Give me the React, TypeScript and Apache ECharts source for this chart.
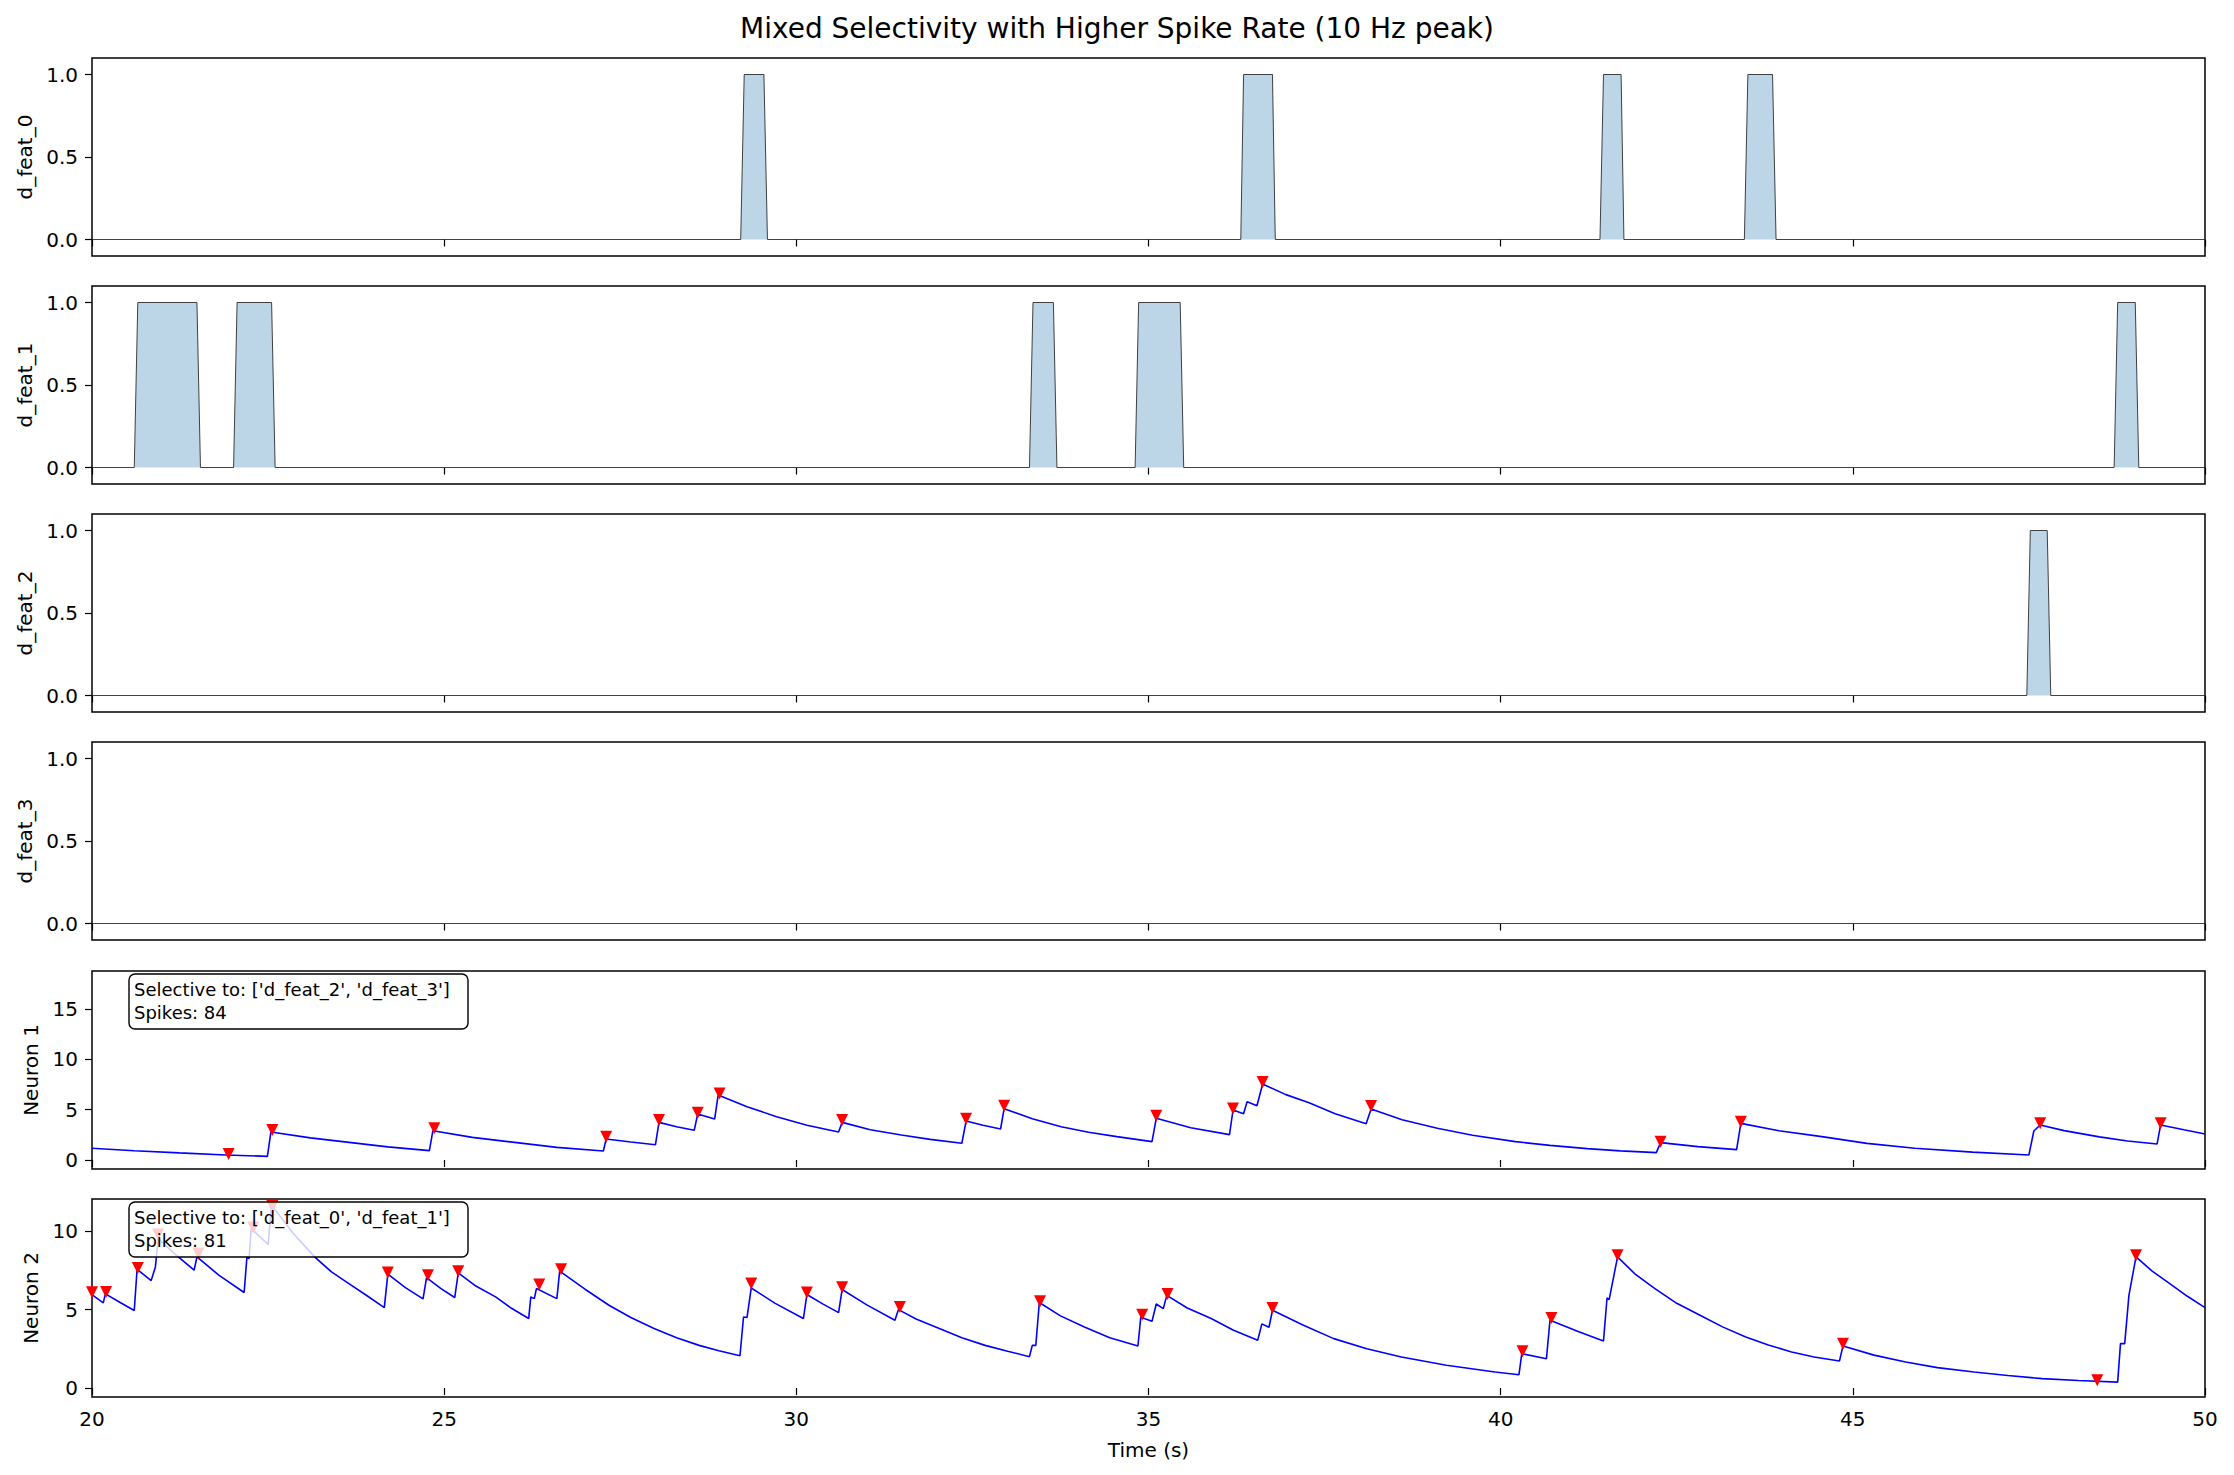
import React, { useEffect, useRef } from "react";
import * as echarts from "echarts";

const TITLE = "Mixed Selectivity with Higher Spike Rate (10 Hz peak)";
const X_LABEL = "Time (s)";
const X_MIN = 20;
const X_MAX = 50;
const X_STEP = 5;

const FEATURE_NAMES = ["d_feat_0", "d_feat_1", "d_feat_2", "d_feat_3"];
const FEATURE_TICKS = [0, 0.5, 1];

// each pulse: [rise start, rise end, fall start, fall end] (s)
const feat0Pulses = [
  [29.21, 29.26, 29.54, 29.59],
  [36.31, 36.35, 36.76, 36.8],
  [41.41, 41.46, 41.71, 41.75],
  [43.46, 43.51, 43.86, 43.91],
];
const feat1Pulses = [
  [20.6, 20.65, 21.49, 21.54],
  [22.01, 22.06, 22.55, 22.6],
  [33.31, 33.36, 33.65, 33.7],
  [34.81, 34.86, 35.45, 35.5],
  [48.71, 48.76, 49.01, 49.06],
];
const feat2Pulses = [[47.47, 47.52, 47.76, 47.81]];
const feat3Pulses: number[][] = [];

const NEURON_NAMES = ["Neuron 1", "Neuron 2"];
const NEURON_SELECTIVITY = ["['d_feat_2', 'd_feat_3']", "['d_feat_0', 'd_feat_1']"];
const NEURON_SPIKES = [84, 81];
const NEURON_TICKS = [
  [0, 5, 10, 15],
  [0, 5, 10],
];
const NEURON_YLIM = [
  [-0.9, 18.8],
  [-0.57, 12.05],
];

const neuron1Trace = [
  [20, 1.16], [20.6, 0.92], [21.24, 0.7], [21.9, 0.5], [22.49, 0.36], [22.54, 2.78],
  [23.1, 2.2], [23.65, 1.75], [24.2, 1.3], [24.79, 0.93], [24.84, 2.91], [25.4, 2.25],
  [26.03, 1.72], [26.6, 1.25], [27.26, 0.89], [27.3, 2.09], [27.65, 1.78], [28.0, 1.52],
  [28.05, 3.74], [28.3, 3.3], [28.55, 2.95], [28.6, 4.57], [28.84, 4.07], [28.89, 6.46],
  [29.3, 5.3], [29.72, 4.3], [30.15, 3.45], [30.6, 2.78], [30.65, 3.74], [31.05, 3.0],
  [31.49, 2.48], [31.9, 2.05], [32.35, 1.66], [32.41, 3.87], [32.65, 3.45], [32.9, 3.08],
  [32.95, 5.1], [33.35, 4.1], [33.76, 3.31], [34.15, 2.75], [34.55, 2.32], [35.05, 1.82],
  [35.11, 4.14], [35.6, 3.2], [36.15, 2.52], [36.2, 4.97], [36.35, 4.6], [36.4, 5.8],
  [36.54, 5.4], [36.62, 7.55], [36.95, 6.5], [37.28, 5.7], [37.65, 4.6], [38.09, 3.61],
  [38.16, 5.07], [38.6, 4.0], [39.1, 3.15], [39.6, 2.45], [40.21, 1.82], [40.7, 1.45],
  [41.23, 1.13], [41.7, 0.9], [42.21, 0.73], [42.27, 1.72], [42.8, 1.33], [43.35, 1.03],
  [43.41, 3.64], [43.95, 2.9], [44.56, 2.32], [45.2, 1.65], [45.88, 1.16], [46.7, 0.78],
  [47.5, 0.5], [47.57, 2.88], [47.66, 3.48], [48.0, 2.92], [48.5, 2.3], [48.9, 1.88],
  [49.32, 1.59], [49.37, 3.48], [49.7, 3.0], [50.0, 2.58],
];
const neuron1Spikes = [
  [21.94, 0.6], [22.56, 2.98], [24.86, 3.15], [27.3, 2.3], [28.05, 3.97], [28.6, 4.7],
  [28.91, 6.6], [30.65, 3.97], [32.41, 4.1], [32.95, 5.4], [35.11, 4.4], [36.2, 5.13],
  [36.62, 7.75], [38.16, 5.36], [42.27, 1.82], [43.41, 3.8], [47.66, 3.64], [49.37, 3.64],
];

const neuron2Trace = [
  [20.0, 5.95], [20.16, 5.43], [20.19, 6.0], [20.4, 5.45], [20.6, 4.94], [20.64, 7.57],
  [20.84, 6.85], [20.9, 7.72], [20.94, 9.53], [21.2, 8.45], [21.45, 7.51], [21.49, 8.36],
  [21.8, 7.2], [22.16, 6.09], [22.2, 8.36], [22.23, 8.25], [22.26, 10.17], [22.5, 9.15],
  [22.55, 11.66], [22.85, 9.9], [23.16, 8.36], [23.4, 7.4], [23.61, 6.77], [23.9, 5.9],
  [24.15, 5.13], [24.2, 7.26], [24.45, 6.4], [24.7, 5.68], [24.75, 7.04], [24.95, 6.35],
  [25.15, 5.77], [25.2, 7.34], [25.45, 6.5], [25.73, 5.81], [25.95, 5.1], [26.2, 4.43],
  [26.23, 5.81], [26.28, 5.7], [26.31, 6.34], [26.6, 5.7], [26.64, 7.45], [27.0, 6.3],
  [27.34, 5.28], [27.65, 4.5], [27.98, 3.79], [28.3, 3.2], [28.62, 2.72], [28.9, 2.38],
  [29.2, 2.06], [29.25, 4.53], [29.3, 4.5], [29.36, 6.38], [29.7, 5.4], [30.1, 4.43],
  [30.15, 5.96], [30.38, 5.35], [30.6, 4.81], [30.65, 6.28], [31.0, 5.3], [31.4, 4.32],
  [31.45, 5.0], [31.7, 4.4], [32.03, 3.79], [32.35, 3.2], [32.68, 2.72], [33.0, 2.35],
  [33.31, 2.0], [33.35, 2.72], [33.4, 2.72], [33.45, 5.45], [33.75, 4.6], [34.09, 3.89],
  [34.45, 3.2], [34.85, 2.68], [34.89, 4.51], [35.05, 4.26], [35.11, 5.36], [35.21, 5.06],
  [35.26, 5.91], [35.55, 5.1], [35.89, 4.43], [36.2, 3.7], [36.55, 3.04], [36.61, 4.09],
  [36.71, 3.87], [36.76, 4.96], [37.2, 4.0], [37.63, 3.15], [38.1, 2.5], [38.59, 1.98],
  [39.23, 1.45], [39.92, 1.02], [40.26, 0.85], [40.3, 2.19], [40.65, 1.87], [40.7, 4.32],
  [41.1, 3.6], [41.46, 3.0], [41.51, 5.74], [41.54, 5.64], [41.66, 8.36], [41.9, 7.3],
  [42.19, 6.34], [42.5, 5.4], [42.83, 4.64], [43.15, 3.9], [43.48, 3.26], [43.8, 2.75],
  [44.13, 2.3], [44.45, 1.98], [44.81, 1.72], [44.86, 2.68], [45.3, 2.1], [45.75, 1.66],
  [46.2, 1.3], [46.72, 1.02], [47.2, 0.8], [47.69, 0.6], [48.2, 0.48], [48.76, 0.38],
  [48.8, 2.83], [48.86, 2.83], [48.92, 5.91], [49.02, 8.36], [49.25, 7.45], [49.5, 6.66],
  [49.75, 5.85], [50.0, 5.13],
];
const neuron2Spikes = [
  [20.0, 6.1], [20.2, 6.13], [20.65, 7.66], [20.94, 9.79], [21.51, 8.57], [22.29, 10.23],
  [22.56, 11.6], [24.2, 7.36], [24.77, 7.19], [25.2, 7.45], [26.35, 6.6], [26.66, 7.57],
  [29.36, 6.66], [30.15, 6.09], [30.65, 6.43], [31.47, 5.17], [33.46, 5.53], [34.91, 4.68],
  [35.27, 6.0], [36.76, 5.11], [40.31, 2.34], [40.72, 4.47], [41.66, 8.47], [44.86, 2.83],
  [48.47, 0.49], [49.02, 8.47],
];

const FONT = "DejaVu Sans";

function pulsesToLine(pulses: number[][]) {
  const pts: number[][] = [[X_MIN, 0]];
  for (const p of pulses) {
    pts.push([p[0], 0], [p[1], 1], [p[2], 1], [p[3], 0]);
  }
  pts.push([X_MAX, 0]);
  return pts;
}

export default function App() {
  const ref = useRef<HTMLDivElement>(null);
  useEffect(() => {
    if (!ref.current) return;
    const chart = echarts.init(ref.current, undefined, { renderer: "svg" });
    const tops = [58, 286, 514, 742, 971, 1199];
    const gridH = 198;
    const grids = tops.map((t) => ({
      left: 92,
      right: 29,
      top: t,
      height: gridH,
      show: true,
      borderColor: "#000",
      borderWidth: 1.5,
      backgroundColor: "transparent",
    }));
    const xAxes = tops.map((_, i) => ({
      type: "value",
      gridIndex: i,
      min: X_MIN,
      max: X_MAX,
      interval: X_STEP,
      splitLine: { show: false },
      axisLine: { show: false },
      axisTick: { show: true, length: 7, lineStyle: { color: "#000", width: 1.2 } },
      axisLabel: {
        show: i === 5,
        margin: 12,
        fontSize: 20,
        fontFamily: FONT,
        color: "#000",
      },
      name: i === 5 ? X_LABEL : "",
      nameLocation: "middle",
      nameGap: 43,
      nameTextStyle: { fontSize: 20, fontFamily: FONT, color: "#000" },
    }));
    const yAxes: any[] = [];
    FEATURE_NAMES.forEach((name, i) => {
      yAxes.push({
        type: "value",
        gridIndex: i,
        min: -0.1,
        max: 1.1,
        splitLine: { show: false },
        axisLine: { show: false },
        axisTick: { show: true, length: 7, customValues: FEATURE_TICKS, lineStyle: { color: "#000", width: 1.2 } },
        axisLabel: {
          customValues: FEATURE_TICKS,
          formatter: (v: number) => v.toFixed(1),
          margin: 14,
          fontSize: 20,
          fontFamily: FONT,
          color: "#000",
        },
        name,
        nameLocation: "middle",
        nameGap: 57,
        nameTextStyle: { fontSize: 20, fontFamily: FONT, color: "#000" },
      });
    });
    NEURON_NAMES.forEach((name, k) => {
      yAxes.push({
        type: "value",
        gridIndex: 4 + k,
        min: NEURON_YLIM[k][0],
        max: NEURON_YLIM[k][1],
        splitLine: { show: false },
        axisLine: { show: false },
        axisTick: { show: true, length: 7, customValues: NEURON_TICKS[k], lineStyle: { color: "#000", width: 1.2 } },
        axisLabel: {
          customValues: NEURON_TICKS[k],
          formatter: (v: number) => String(v),
          margin: 14,
          fontSize: 20,
          fontFamily: FONT,
          color: "#000",
        },
        name,
        nameLocation: "middle",
        nameGap: 51,
        nameTextStyle: { fontSize: 20, fontFamily: FONT, color: "#000" },
      });
    });

    const featPulses = [feat0Pulses, feat1Pulses, feat2Pulses, feat3Pulses];
    const series: any[] = featPulses.map((p, i) => ({
      type: "line",
      xAxisIndex: i,
      yAxisIndex: i,
      data: pulsesToLine(p),
      symbol: "none",
      lineStyle: { color: "#222", width: 1, opacity: 0.85 },
      areaStyle: { color: "#bcd6e8", opacity: 1, origin: 0 },
      z: 2,
    }));
    const traces = [neuron1Trace, neuron2Trace];
    const spikes = [neuron1Spikes, neuron2Spikes];
    traces.forEach((tr, k) => {
      series.push({
        type: "line",
        xAxisIndex: 4 + k,
        yAxisIndex: 4 + k,
        data: tr,
        symbol: "none",
        lineStyle: { color: "#0000ff", width: 1.6 },
        z: 2,
      });
      series.push({
        type: "scatter",
        xAxisIndex: 4 + k,
        yAxisIndex: 4 + k,
        data: spikes[k],
        symbol: "triangle",
        symbolRotate: 180,
        symbolSize: 12,
        itemStyle: { color: "#ff0000", opacity: 1 },
        z: 3,
      });
    });

    const boxes = NEURON_NAMES.map((_, k) => {
      const t = tops[4 + k];
      return {
        type: "group",
        z: 100,
        children: [
          {
            type: "rect",
            z: 100,
            shape: { x: 129, y: t + 3, width: 339, height: 55, r: 6 },
            style: { fill: "rgba(255,255,255,0.8)", stroke: "#000", lineWidth: 1.4 },
          },
          {
            type: "text",
            z: 101,
            x: 134,
            y: t + 7,
            style: {
              text: `Selective to: ${NEURON_SELECTIVITY[k]}\nSpikes: ${NEURON_SPIKES[k]}`,
              fontSize: 18,
              fontFamily: FONT,
              fill: "#000",
              lineHeight: 23,
              verticalAlign: "top",
              align: "left",
            },
          },
        ],
      };
    });

    chart.setOption({
      animation: false,
      backgroundColor: "#fff",
      title: {
        text: TITLE,
        left: "center",
        top: 9,
        textStyle: { fontSize: 28, fontWeight: "normal", fontFamily: FONT, color: "#000" },
      },
      grid: grids,
      xAxis: xAxes,
      yAxis: yAxes,
      series,
      graphic: boxes,
    });
    return () => chart.dispose();
  }, []);
  return (
    <div
      ref={ref}
      style={{ position: "absolute", left: 0, top: 0, width: 2234, height: 1475 }}
    />
  );
}
